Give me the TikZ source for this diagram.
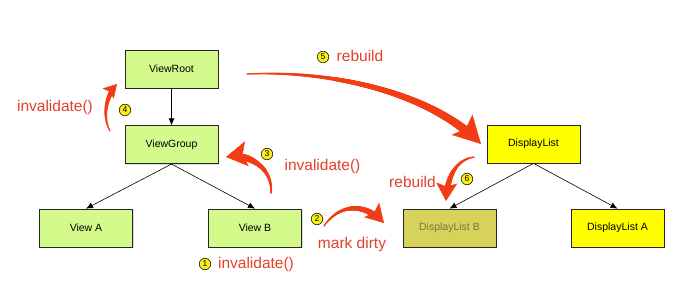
\documentclass[tikz,border=0pt]{standalone}
\usepackage{fontspec}
\setmainfont{Liberation Sans}
\usepackage{xcolor}
\usetikzlibrary{arrows.meta, positioning, shadows, decorations.markings}

\definecolor{viewgreen}{RGB}{213,250,140}
\definecolor{listyellow}{RGB}{255,255,0}
\definecolor{dirtyolive}{RGB}{214,210,90}
\definecolor{dirtytext}{RGB}{120,118,70}
\definecolor{flowred}{RGB}{242,60,22}
\definecolor{notered}{RGB}{228,64,42}
\definecolor{badgeyellow}{RGB}{250,240,20}

\begin{document}
\begin{tikzpicture}[
    x=1pt, y=-1pt,
    node distance=37pt and 76pt,
    viewbox/.style={rectangle, draw=black!85, fill=viewgreen, line width=0.7pt, minimum width=93pt, minimum height=38pt, font=\fontsize{10.5}{12}\selectfont, drop shadow={shadow xshift=1pt, shadow yshift=-1pt, opacity=0.3}},
    listbox/.style={viewbox, fill=listyellow},
    dirtybox/.style={viewbox, fill=dirtyolive, text=dirtytext},
    arrow/.style={-{Latex[length=7pt, width=6pt]}, line width=0.6pt},
    % tapered red arrow: start radius, end radius, head length, head width
    flow/.style n args={4}{draw=flowred, line width=0.4pt, -{Stealth[length=#3, width=#4, inset=0.2*#3]},
        postaction={decorate, decoration={markings,
            mark=between positions 0 and -0.55*#3 step 0.5pt with {%
                \pgfmathsetmacro\flowr{#1+(#2-#1)*\pgfkeysvalueof{/pgf/decoration/mark info/distance from start}/\pgfdecoratedpathlength}%
                \fill[flowred] (0,0) circle (\flowr pt);}}}},
    note/.style={text=notered, font=\fontsize{15.5}{18}\selectfont, inner sep=1pt},
    badge/.style={circle, draw=black, fill=badgeyellow, inner sep=0pt, minimum size=11.5pt, line width=0.5pt, font=\fontsize{8.5}{9}\selectfont}
]
    \useasboundingbox (0,0) rectangle (680,288);

    % View tree
    \node (root) [viewbox] at (171.5,69) {ViewRoot};
    \node (group) [viewbox, below=of root] {ViewGroup};
    \node (viewa) [viewbox] at (86,228) {View A};
    \node (viewb) [viewbox] at (255,228) {View B};

    % DisplayList tree
    \node (list) [listbox] at (533.5,144) {DisplayList};
    \node (listb) [dirtybox] at (449.5,228) {DisplayList B};
    \node (lista) [listbox] at (617.5,228) {DisplayList A};

    % Tree edges
    \draw [arrow] (root) -- (group);
    \draw [arrow] (group.south) -- (viewa.north);
    \draw [arrow] (group.south) -- (viewb.north);
    \draw [arrow] (list.south) -- (listb.north);
    \draw [arrow] (list.south) -- (lista.north);

    % Flow ends
    \coordinate (f1s) at (110,131);  \coordinate (f1e) at (117,84);
    \coordinate (f3s) at (271,193);  \coordinate (f3e) at (226,157);
    \coordinate (f2s) at (324,226);  \coordinate (f2e) at (384,223);
    \coordinate (f5s) at (247,74);   \coordinate (f5e) at (481,144);
    \coordinate (f6s) at (474,157);  \coordinate (f6e) at (446,201);

    % Red flow arrows
    \draw [flow={0.6}{2.8}{13pt}{15pt}] (f1s) .. controls (102,116) and (106,96) .. (f1e);
    \draw [flow={0.8}{4.2}{21pt}{25pt}] (f3s) .. controls (273,170) and (252,153) .. (f3e);
    \draw [flow={0.7}{3.6}{18pt}{21pt}] (f2s) .. controls (340,203) and (365,203) .. (f2e);
    \draw [flow={0.6}{4.6}{27pt}{29pt}] (f5s) .. controls (330,70) and (430,92) .. (f5e);
    \draw [flow={0.7}{3.6}{18pt}{21pt}] (f6s) .. controls (455,160) and (447,178) .. (f6e);

    % Steps
    \node (b1) [badge] at (205,264) {1};
    \node (n1) [note] at (256,264) {invalidate()};
    \node (b2) [badge] at (317,219) {2};
    \node (n2) [note] at (352,244) {mark dirty};
    \node (b3) [badge] at (267,154) {3};
    \node (n3) [note] at (322.5,166) {invalidate()};
    \node (b4) [badge] at (125,110) {4};
    \node (n4) [note] at (55,107) {invalidate()};
    \node (b5) [badge] at (323,57) {5};
    \node (n5) [note] at (360,56) {rebuild};
    \node (b6) [badge] at (467,179) {6};
    \node (n6) [note] at (412.5,182) {rebuild};
\end{tikzpicture}
\end{document}
